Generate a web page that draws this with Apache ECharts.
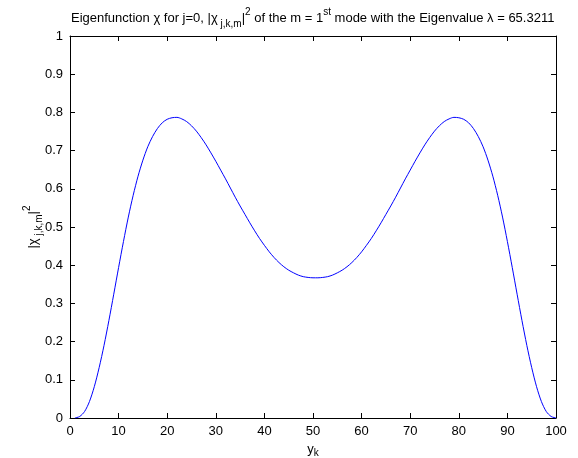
<!DOCTYPE html>
<html>
<head>
<meta charset="utf-8">
<script src="https://cdn.jsdelivr.net/npm/echarts@6/dist/echarts.min.js"></script>
<style>html,body{margin:0;padding:0;background:#fff}#c{width:578px;height:458px}</style>
</head>
<body>
<div id="c"></div>
<script>
var xValues = [1,2,3,4,5,6,7,8,9,10,11,12,13,14,15,16,17,18,19,20,21,22,23,24,25,26,27,28,29,30,31,32,33,34,35,36,37,38,39,40,41,42,43,44,45,46,47,48,49,50,51,52,53,54,55,56,57,58,59,60,61,62,63,64,65,66,67,68,69,70,71,72,73,74,75,76,77,78,79,80,81,82,83,84,85,86,87,88,89,90,91,92,93,94,95,96,97,98,99,100];
var yValues = [0,0.004,0.017,0.043,0.082,0.132,0.19,0.255,0.324,0.394,0.462,0.526,0.583,0.633,0.675,0.71,0.737,0.758,0.773,0.782,0.786,0.787,0.783,0.776,0.765,0.751,0.734,0.715,0.694,0.672,0.649,0.626,0.602,0.578,0.555,0.533,0.511,0.49,0.47,0.452,0.435,0.42,0.407,0.396,0.387,0.38,0.374,0.37,0.368,0.367,0.367,0.368,0.37,0.374,0.38,0.387,0.396,0.407,0.42,0.435,0.452,0.47,0.49,0.511,0.533,0.555,0.578,0.602,0.626,0.649,0.672,0.694,0.715,0.734,0.751,0.765,0.776,0.783,0.787,0.786,0.782,0.773,0.758,0.737,0.71,0.675,0.633,0.583,0.526,0.462,0.394,0.324,0.255,0.19,0.132,0.082,0.043,0.017,0.004,0];
var xTicks = [0,10,20,30,40,50,60,70,80,90,100];
var yTicks = [0,0.1,0.2,0.3,0.4,0.5,0.6,0.7,0.8,0.9,1];

var FONT = '"Liberation Sans", Arial, Helvetica, sans-serif';
var chart = echarts.init(document.getElementById('c'), null, {renderer: 'canvas'});
var data = xValues.map(function (x, i) { return [x, yValues[i]]; });
var sub = {fontSize: 10, fontFamily: FONT, fontWeight: 'normal', color: '#000', verticalAlign: 'bottom', lineHeight: 22};
var sup = {fontSize: 10, fontFamily: FONT, fontWeight: 'normal', color: '#000', verticalAlign: 'top', lineHeight: 22};
var norm = {fontSize: 13, fontFamily: FONT, fontWeight: 'normal', color: '#000', lineHeight: 22};

function axisCommon(show, margin) {
  return {
    axisLine: {show: true, onZero: false, lineStyle: {color: '#000', width: 1}},
    axisTick: {show: true, inside: true, length: 5, lineStyle: {color: '#000', width: 1}},
    axisLabel: {show: show, color: '#000', fontSize: 13, fontFamily: FONT, margin: margin || 7},
    splitLine: {show: false}
  };
}

var option = {
  backgroundColor: '#fff',
  animation: false,
  title: {
    text: '{n|Eigenfunction χ for j=0, |χ}{b| j,k,m}{n||}{p|2}{n| of the m = 1}{p|st}{n| mode with the Eigenvalue λ = 65.3211}',
    left: 66,
    top: 2,
    textStyle: {fontWeight: 'normal', rich: {n: norm, b: sub, p: sup}}
  },
  grid: {left: 70, right: 22, top: 36, bottom: 40, containLabel: false, outerBoundsMode: 'none'},
  xAxis: [
    Object.assign({
      type: 'value', min: 0, max: 100, interval: 10, position: 'bottom',
      name: '{n|y}{b|k}', nameLocation: 'middle', nameGap: 12,
      nameTextStyle: {rich: {
        n: {fontSize: 13, fontFamily: FONT, color: '#000', lineHeight: 18},
        b: {fontSize: 10, fontFamily: FONT, color: '#000', verticalAlign: 'bottom', lineHeight: 18}
      }}
    }, axisCommon(true, 7)),
    Object.assign({type: 'value', min: 0, max: 100, interval: 10, position: 'top'}, axisCommon(false))
  ],
  yAxis: [
    Object.assign({
      type: 'value', min: 0, max: 1, interval: 0.1, position: 'left',
      name: '{n||χ}{b| j,k,m}{n||}{p|2}', nameLocation: 'middle', nameGap: 26, nameRotate: 90,
      nameMoveOverlap: false,
      nameTextStyle: {rich: {n: norm, b: sub, p: sup}}
    }, axisCommon(true, 7)),
    Object.assign({type: 'value', min: 0, max: 1, interval: 0.1, position: 'right'}, axisCommon(false))
  ],
  series: [{
    type: 'line',
    data: data,
    xAxisIndex: 0, yAxisIndex: 0,
    showSymbol: false,
    smooth: 0.3,
    lineStyle: {color: '#0000ff', width: 1},
    itemStyle: {color: '#0000ff'}
  }]
};
chart.setOption(option);
</script>
</body>
</html>
